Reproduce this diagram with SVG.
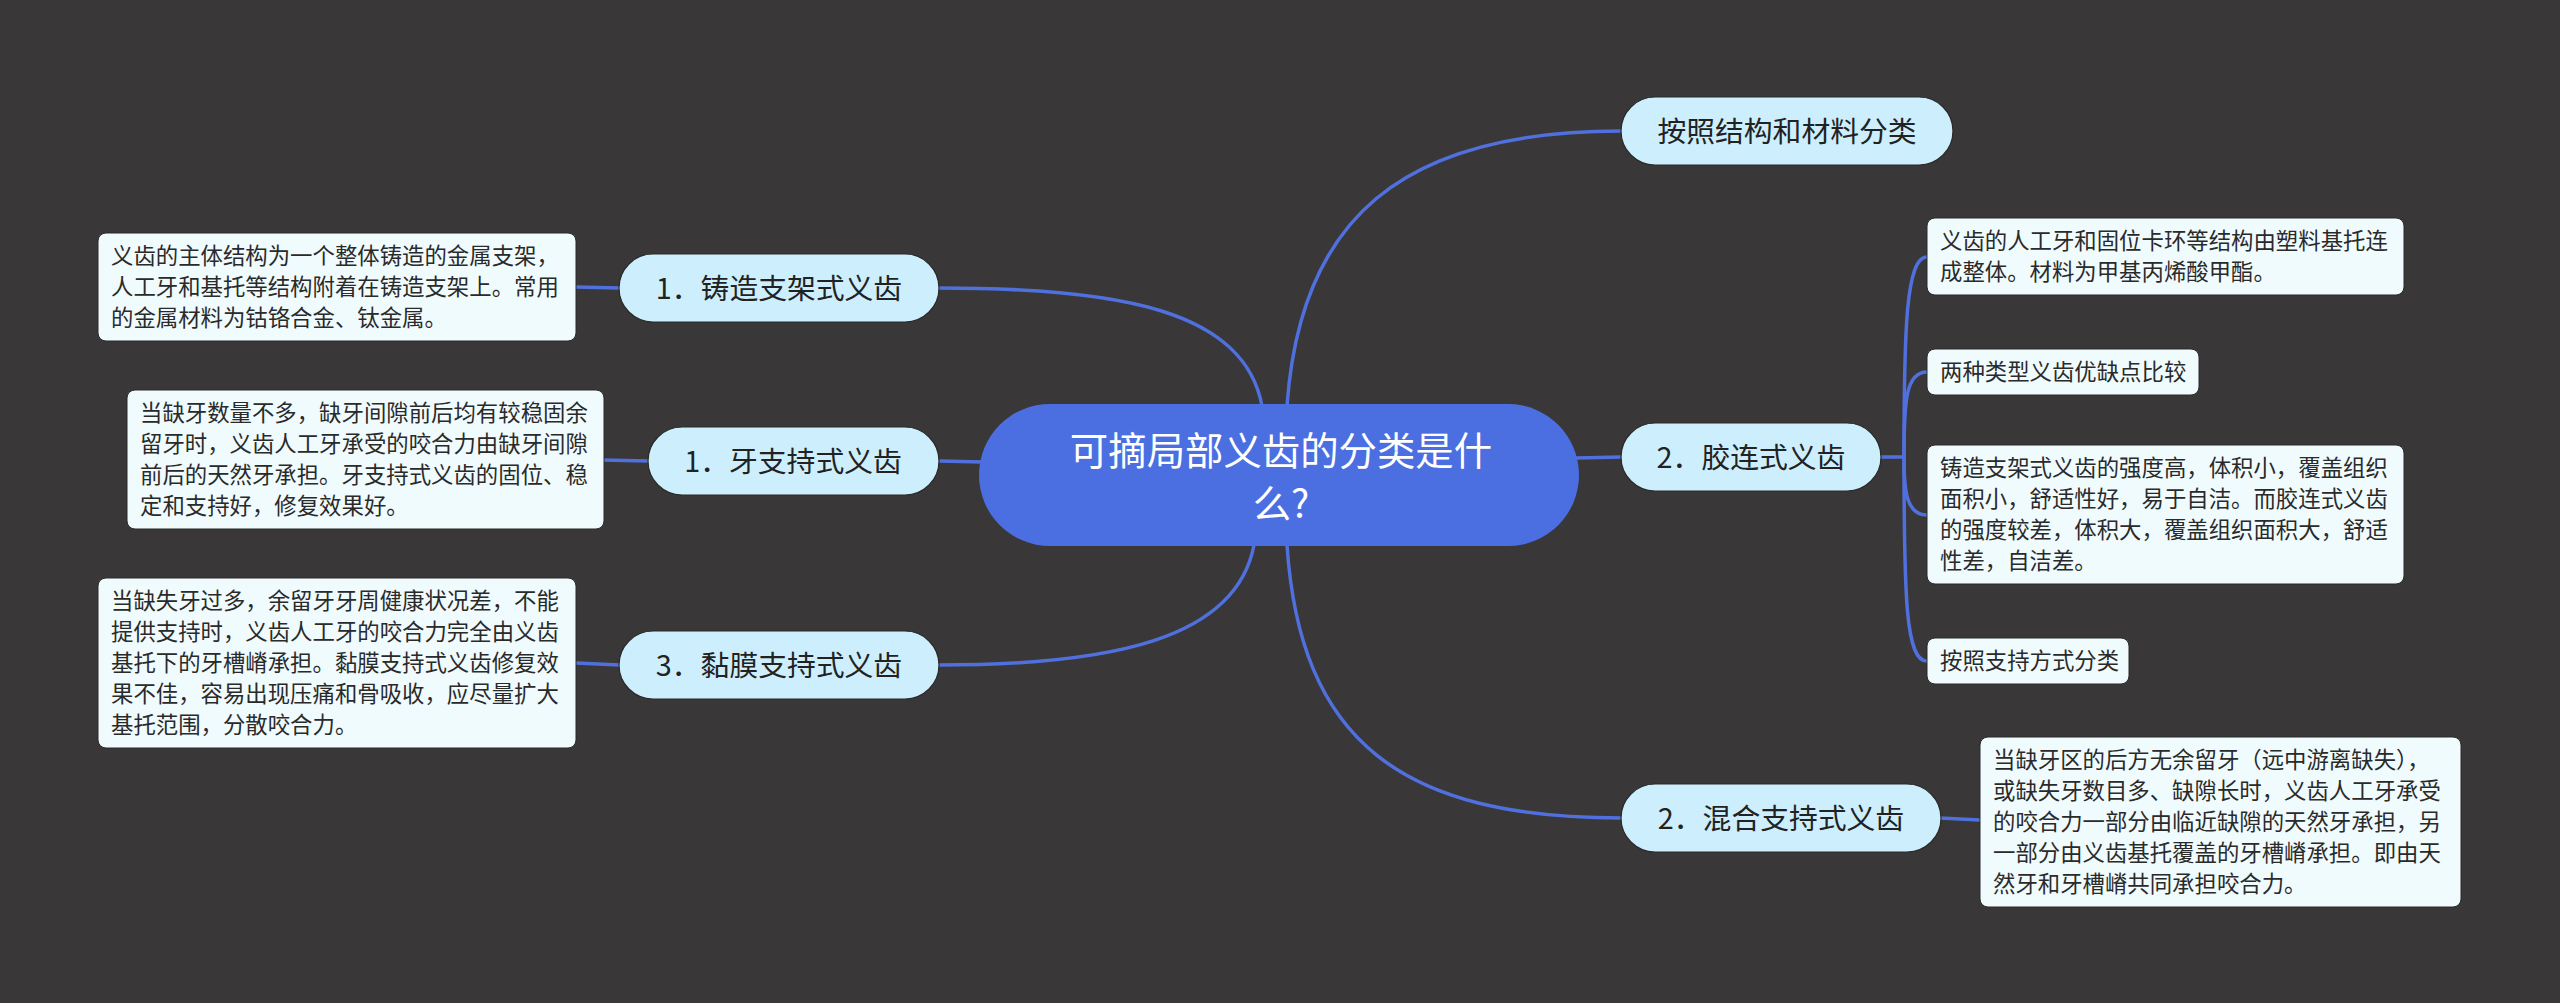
<svg xmlns="http://www.w3.org/2000/svg" width="2560" height="1003" viewBox="0 0 2560 1003">
<style>
.bg{fill:#393738}
.line{fill:none;stroke:#5070de;stroke-width:3.5}
.root{fill:#4b6fe1}
.rt{fill:#ffffff;font-family:"Noto Sans CJK SC","Noto Sans",sans-serif;font-size:38.4px;text-anchor:middle}
.l1{fill:#cdeffd;stroke:#2a2a2a;stroke-width:1.2}
.l1t{fill:#222222;font-family:"Noto Sans CJK SC","Noto Sans",sans-serif;font-size:28.8px;text-anchor:middle}
.leaf{fill:#f0fbfe;stroke:#2a2a2a;stroke-width:1}
.lt{fill:#2a2a2a;font-family:"Noto Sans CJK SC","Noto Sans",sans-serif;font-size:22.4px}
</style>
<rect class="bg" x="0" y="0" width="2560" height="1003"/>
<g id="connectors">
<path class="line" d="M1287 406 C1300 220 1400 131 1621 131"/>
<path class="line" d="M1262 406 C1244 310 1120 288 939 288"/>
<path class="line" d="M983 462 L939 461"/>
<path class="line" d="M1254 545 C1236 640 1110 665 939 665"/>
<path class="line" d="M1576 458 L1621 457"/>
<path class="line" d="M1287 545 C1300 740 1400 818 1621 818"/>
<path class="line" d="M620 288 L576 287"/>
<path class="line" d="M648 461 L603 460"/>
<path class="line" d="M620 665 L576 663"/>
<path class="line" d="M1940 818 L1980 820"/>
<path class="line" d="M1881 457 L1904 457"/>
<path class="line" d="M1904 457 C1904 330 1906 257 1927 257"/>
<path class="line" d="M1904 457 C1904 400 1906 372 1927 372"/>
<path class="line" d="M1904 457 C1904 490 1906 515 1927 515"/>
<path class="line" d="M1904 457 C1904 600 1906 661 1927 661"/>
</g>
<g id="root">
<rect class="root" x="979" y="404" width="600" height="142" rx="71"/>
<text class="rt" x="1281" y="465">可摘局部义齿的分类是什</text>
<text class="rt" x="1281" y="518">么?</text>
</g>
<g id="n-structure">
<rect class="l1" x="1621" y="97" width="332" height="68" rx="34"/>
<text class="l1t" x="1787" y="142">按照结构和材料分类</text>
</g>
<g id="n-cast">
<rect class="l1" x="619" y="254" width="320" height="68" rx="34"/>
<text class="l1t" x="779" y="299">1．铸造支架式义齿</text>
</g>
<g id="n-tooth">
<rect class="l1" x="648" y="427" width="291" height="68" rx="34"/>
<text class="l1t" x="793" y="472">1．牙支持式义齿</text>
</g>
<g id="n-mucosa">
<rect class="l1" x="619" y="631" width="320" height="68" rx="34"/>
<text class="l1t" x="779" y="676">3．黏膜支持式义齿</text>
</g>
<g id="n-resin">
<rect class="l1" x="1621" y="423" width="260" height="68" rx="34"/>
<text class="l1t" x="1751" y="468">2．胶连式义齿</text>
</g>
<g id="n-mixed">
<rect class="l1" x="1621" y="784" width="320" height="68" rx="34"/>
<text class="l1t" x="1781" y="829">2．混合支持式义齿</text>
</g>
<g id="leaf-cast">
<rect class="leaf" x="98" y="233" width="478" height="108" rx="8"/>
<text class="lt" x="111" y="264">义齿的主体结构为一个整体铸造的金属支架，</text>
<text class="lt" x="111" y="295">人工牙和基托等结构附着在铸造支架上。常用</text>
<text class="lt" x="111" y="326">的金属材料为钴铬合金、钛金属。</text>
</g>
<g id="leaf-tooth">
<rect class="leaf" x="127" y="390" width="477" height="139" rx="8"/>
<text class="lt" x="140" y="421">当缺牙数量不多，缺牙间隙前后均有较稳固余</text>
<text class="lt" x="140" y="452">留牙时，义齿人工牙承受的咬合力由缺牙间隙</text>
<text class="lt" x="140" y="483">前后的天然牙承担。牙支持式义齿的固位、稳</text>
<text class="lt" x="140" y="514">定和支持好，修复效果好。</text>
</g>
<g id="leaf-mucosa">
<rect class="leaf" x="98" y="578" width="478" height="170" rx="8"/>
<text class="lt" x="111" y="609">当缺失牙过多，余留牙牙周健康状况差，不能</text>
<text class="lt" x="111" y="640">提供支持时，义齿人工牙的咬合力完全由义齿</text>
<text class="lt" x="111" y="671">基托下的牙槽嵴承担。黏膜支持式义齿修复效</text>
<text class="lt" x="111" y="702">果不佳，容易出现压痛和骨吸收，应尽量扩大</text>
<text class="lt" x="111" y="733">基托范围，分散咬合力。</text>
</g>
<g id="leaf-resin1">
<rect class="leaf" x="1927" y="218" width="477" height="77" rx="8"/>
<text class="lt" x="1940" y="249">义齿的人工牙和固位卡环等结构由塑料基托连</text>
<text class="lt" x="1940" y="280">成整体。材料为甲基丙烯酸甲酯。</text>
</g>
<g id="leaf-resin2">
<rect class="leaf" x="1927" y="349" width="272" height="46" rx="8"/>
<text class="lt" x="1940" y="380">两种类型义齿优缺点比较</text>
</g>
<g id="leaf-resin3">
<rect class="leaf" x="1927" y="445" width="477" height="139" rx="8"/>
<text class="lt" x="1940" y="476">铸造支架式义齿的强度高，体积小，覆盖组织</text>
<text class="lt" x="1940" y="507">面积小，舒适性好，易于自洁。而胶连式义齿</text>
<text class="lt" x="1940" y="538">的强度较差，体积大，覆盖组织面积大，舒适</text>
<text class="lt" x="1940" y="569">性差，自洁差。</text>
</g>
<g id="leaf-resin4">
<rect class="leaf" x="1927" y="638" width="202" height="46" rx="8"/>
<text class="lt" x="1940" y="669">按照支持方式分类</text>
</g>
<g id="leaf-mixed">
<rect class="leaf" x="1980" y="737" width="481" height="170" rx="8"/>
<text class="lt" x="1993" y="768">当缺牙区的后方无余留牙（远中游离缺失），</text>
<text class="lt" x="1993" y="799">或缺失牙数目多、缺隙长时，义齿人工牙承受</text>
<text class="lt" x="1993" y="830">的咬合力一部分由临近缺隙的天然牙承担，另</text>
<text class="lt" x="1993" y="861">一部分由义齿基托覆盖的牙槽嵴承担。即由天</text>
<text class="lt" x="1993" y="892">然牙和牙槽嵴共同承担咬合力。</text>
</g>
</svg>
